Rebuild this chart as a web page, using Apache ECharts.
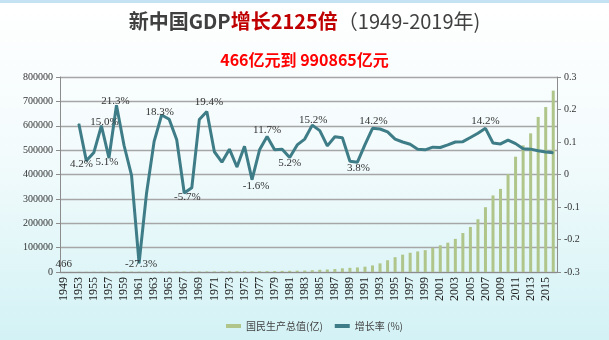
<!DOCTYPE html>
<html><head><meta charset="utf-8">
<script src="https://cdn.jsdelivr.net/npm/echarts@6/dist/echarts.min.js"></script>
<style>html,body{margin:0;padding:0;}#c{width:609px;height:340px;}</style>
</head><body><div id="c"></div>
<script>
const years = ['1949','1952','1953','1954','1955','1956','1957','1958','1959','1960','1961','1962','1963','1964','1965','1966','1967','1968','1969','1970','1971','1972','1973','1974','1975','1976','1977','1978','1979','1980','1981','1982','1983','1984','1985','1986','1987','1988','1989','1990','1991','1992','1993','1994','1995','1996','1997','1998','1999','2000','2001','2002','2003','2004','2005','2006','2007','2008','2009','2010','2011','2012','2013','2014','2015','2016'];
const gdp = [466,679,824,859,910,1028,1068,1307,1439,1457,1220,1149,1233,1454,1716,1868,1774,1723,1938,2253,2426,2518,2721,2790,2997,2944,3202,3645,4063,4546,4892,5323,5963,7208,9016,10275,12059,15043,16992,18668,21782,26924,35334,48198,60794,71177,78973,84402,89677,99215,109655,120333,135823,159878,184937,216314,265810,314045,340903,401513,473104,519470,568845,636139,676708,744127];
const growth = [null,null,0.156,0.042,0.068,0.150,0.051,0.213,0.090,-0.003,-0.273,-0.056,0.102,0.183,0.170,0.107,-0.057,-0.041,0.169,0.194,0.070,0.038,0.078,0.023,0.087,-0.016,0.076,0.117,0.076,0.078,0.052,0.091,0.109,0.152,0.135,0.088,0.116,0.113,0.041,0.038,0.092,0.142,0.140,0.131,0.109,0.100,0.093,0.078,0.076,0.084,0.083,0.091,0.100,0.101,0.114,0.127,0.142,0.097,0.094,0.106,0.095,0.079,0.078,0.073,0.069,0.067];
const labelledYears = ['1954','1956','1957','1958','1961','1964','1967','1970','1976','1978','1981','1984','1990','1992','2007'];
const seriesNames = ['国民生产总值(亿)','增长率 (%)'];

// label placement (style, not data)
const labelPlace = {'1954':['bottom',-3,-5],'1956':['top',-2,3],'1957':['bottom',-2,-2],'1958':['top',-2,-1],'1961':['bottom',-5,2],'1964':['top',-3,-2],'1967':['bottom',-2,3],'1970':['top',3,2],'1976':['bottom',0,4],'1978':['top',0,0],'1981':['bottom',0,0],'1984':['top',-1,1],'1990':['bottom',0,1],'1992':['top',1,1],'2007':['top',1,0]};

const serif = "'Liberation Serif', 'Times New Roman', serif";
const lineData = growth.map((v,i)=>{
  const y = years[i];
  if (labelledYears.includes(y)) {
    const p = labelPlace[y];
    return {value:v, label:{show:true, position:p[0], distance:p[1], offset:[p[2],0],
      formatter: q => (q.value*100).toFixed(1)+'%'}};
  }
  return v;
});
const barData = gdp.map((v,i)=> i===0 ? {value:v, label:{show:true, position:'top', distance:2, formatter:String(v), fontFamily:serif, fontSize:11, color:'#333'}} : v);

const chart = echarts.init(document.getElementById('c'), null, {renderer:'canvas'});
chart.setOption({
  animation:false,
  backgroundColor:{type:'linear',x:0,y:0,x2:0,y2:1,colorStops:[{offset:0,color:'#ffffff'},{offset:0.45,color:'#f3fbfc'},{offset:1,color:'#d3f2f5'}]},
  graphic:[{type:'rect',left:0,top:0,shape:{width:609,height:3},style:{fill:'#c4e2f2'}}],
  title:[
    {text:'{a|新中国GDP}{b|增长2125倍}{c|（1949-2019年)}', left:'center', top:6,
     textStyle:{rich:{
       a:{fontFamily:'Noto Sans CJK SC',fontSize:20,fontWeight:'bold',color:'#404040'},
       b:{fontFamily:'Noto Sans CJK SC',fontSize:20,fontWeight:'bold',color:'#c00000'},
       c:{fontFamily:'Noto Sans CJK SC',fontSize:20,fontWeight:'normal',color:'#404040'}}}},
    {text:'466亿元到 990865亿元', left:'center', top:47,
     textStyle:{fontFamily:'Noto Sans CJK SC',fontSize:16,fontWeight:'bold',color:'#ff0000'}}
  ],
  legend:{
    left:221, top:316, itemWidth:15, itemHeight:4, itemGap:12,
    data:[{name:seriesNames[0],icon:'rect'},{name:seriesNames[1],icon:'rect'}],
    textStyle:{fontFamily:'Noto Sans CJK SC',fontSize:10,color:'#444'}
  },
  grid:{left:60,right:52,top:77,bottom:68,containLabel:false},
  xAxis:{
    type:'category', data:years, boundaryGap:true,
    axisLine:{lineStyle:{color:'#8c8c8c'}},
    axisTick:{interval:0,lineStyle:{color:'#8c8c8c'},length:4},
    axisLabel:{interval:1,rotate:90,fontFamily:serif,fontSize:12,color:'#222',margin:5}
  },
  yAxis:[
    {type:'value',min:0,max:800000,interval:100000,
     axisLine:{show:true,lineStyle:{color:'#8c8c8c'}},
     axisTick:{show:true,length:4,lineStyle:{color:'#8c8c8c'}},
     axisLabel:{fontFamily:serif,fontSize:10,color:'#333',margin:7,formatter:v=>String(v)},
     splitLine:{lineStyle:{color:'#a6a6a6',width:1.3}}},
    {type:'value',position:'right',min:-0.3,max:0.3,interval:0.1,
     axisLine:{show:true,lineStyle:{color:'#8c8c8c'}},
     axisTick:{show:true,length:4,lineStyle:{color:'#8c8c8c'}},
     axisLabel:{fontFamily:serif,fontSize:10,color:'#333',margin:7,
       formatter:v=>String(Number(v.toFixed(1)))},
     splitLine:{show:false}}
  ],
  series:[
    {name:seriesNames[0],type:'bar',yAxisIndex:0,data:barData,barWidth:3,
     itemStyle:{color:'#afc58a'}},
    {name:seriesNames[1],type:'line',yAxisIndex:1,data:lineData,
     symbol:'circle',symbolSize:1,showSymbol:true,connectNulls:false,z:5,
     lineStyle:{color:'#3e7d87',width:3},itemStyle:{color:'#3e7d87'},
     label:{fontFamily:serif,fontSize:11,color:'#333'}}
  ]
});
</script></body></html>
